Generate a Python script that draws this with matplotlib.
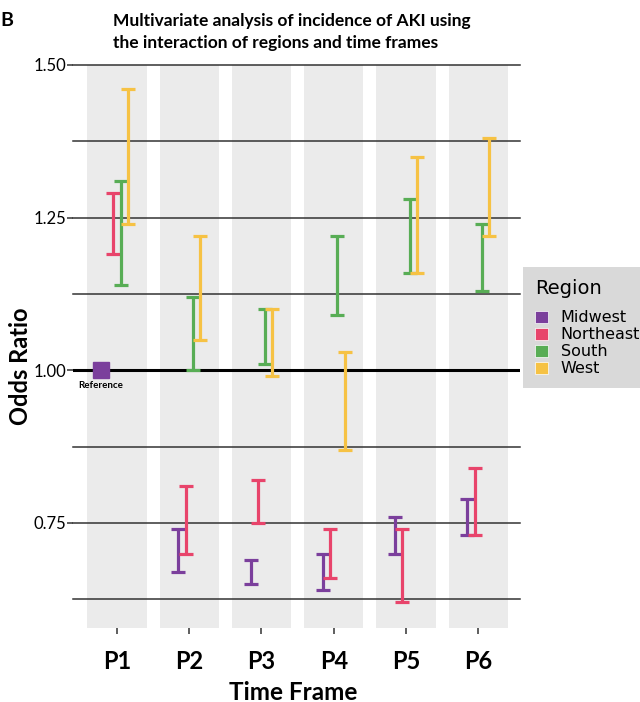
import numpy as np
import matplotlib
matplotlib.use('Agg')
from matplotlib import pyplot as plt
from matplotlib.patches import Patch

periods = ['P1', 'P2', 'P3', 'P4', 'P5', 'P6']
regions = ['Midwest', 'Northeast', 'South', 'West']
colors = ['#7B3F9C', '#E8446B', '#58AD55', '#F6C244']

# 95% CI bounds per region, one value per period (None = reference)
midwest_lo = [None, 0.67, 0.65, 0.64, 0.70, 0.73]
midwest_hi = [None, 0.74, 0.69, 0.70, 0.76, 0.79]
northeast_lo = [1.19, 0.70, 0.75, 0.66, 0.62, 0.73]
northeast_hi = [1.29, 0.81, 0.82, 0.74, 0.74, 0.84]
south_lo = [1.14, 1.00, 1.01, 1.09, 1.16, 1.13]
south_hi = [1.31, 1.12, 1.10, 1.22, 1.28, 1.24]
west_lo = [1.24, 1.05, 0.99, 0.87, 1.16, 1.22]
west_hi = [1.46, 1.22, 1.10, 1.03, 1.35, 1.38]
reference_value = 1.0

lows = [midwest_lo, northeast_lo, south_lo, west_lo]
highs = [midwest_hi, northeast_hi, south_hi, west_hi]
offsets = [-0.15, -0.05, 0.05, 0.15]

plt.rcParams['font.family'] = ['Lato', 'DejaVu Sans']

fig = plt.figure(figsize=(6.4, 7.02), dpi=100)
ax = fig.add_axes([73/640, 1-628/702, (520-73)/640, (628-65)/702])

x = np.arange(1, len(periods)+1)
for xi in x:
    ax.axvspan(xi-0.41, xi+0.41, color='#EBEBEB', zorder=0, lw=0)

# gridlines
for yv in [0.625, 0.75, 0.875, 1.125, 1.25, 1.375, 1.5]:
    ax.axhline(yv, color='#333333', lw=1.1, zorder=1, clip_on=False)
ax.axhline(1.0, color='black', lw=2.2, zorder=1)

for lo, hi, off, c in zip(lows, highs, offsets, colors):
    xs, ys, err = [], [], []
    for i, (l, h) in enumerate(zip(lo, hi)):
        if l is None:
            continue
        xs.append(x[i]+off)
        ys.append((l+h)/2)
        err.append((h-l)/2)
    ax.errorbar(xs, ys, yerr=err, fmt='none', ecolor=c, elinewidth=2.3,
                capsize=5, capthick=2.3, zorder=3)

# reference marker for Midwest P1
ax.plot(x[0]-0.22, reference_value, marker='s', ms=11.5, color=colors[0],
        mec=colors[0], zorder=4)
ax.text(x[0]-0.22, reference_value-0.017, 'Reference', ha='center', va='top',
        fontsize=7, fontweight='bold', zorder=4)

ax.set_xlim(0.39, 6.58)
ax.set_ylim(0.578, 1.5)
ax.set_xticks(x)
ax.set_xticklabels(periods, fontsize=17, fontweight='bold')
ax.set_yticks([0.75, 1.0, 1.25, 1.5])
ax.set_yticklabels(['0.75', '1.00', '1.25', '1.50'], fontsize=12)
ax.tick_params(axis='both', length=4, color='#333333', width=1.1)
ax.tick_params(axis='x', pad=12)
ax.tick_params(axis='y', pad=1)
for s in ax.spines.values():
    s.set_visible(False)

ax.set_xlabel('Time Frame', fontsize=17.5, fontweight='bold', va='center')
ax.xaxis.set_label_coords((293-73)/447, (628-692)/563)
ax.set_ylabel('Odds Ratio', fontsize=17, fontweight='bold', va='center')
ax.yaxis.set_label_coords((21-73)/447, (628-366)/563)

fig.text(113/640, 1-32/702, 'Multivariate analysis of incidence of AKI using\nthe interaction of regions and time frames',
         fontsize=12.5, fontweight='bold', ha='left', va='center', linespacing=1.45)
fig.text(0.0, 1-20/702, 'B', fontsize=14, fontweight='bold', ha='left', va='center')

handles = [Patch(facecolor=c, edgecolor='white', lw=0.5) for c in colors]
leg = fig.legend(handles, regions, title='Region', loc='upper left',
                 bbox_to_anchor=(523/640, 1-267/702), borderaxespad=0,
                 frameon=True, fancybox=False, facecolor='#D9D9D9', edgecolor='none',
                 prop={'family': 'DejaVu Sans', 'size': 11.5}, handlelength=0.8,
                 handleheight=0.8, handletextpad=0.8, labelspacing=0.12,
                 borderpad=0.75)
leg.get_title().set_fontfamily('DejaVu Sans')
leg.get_title().set_fontsize(14)
leg._legend_box.align = 'left'
leg._legend_box.sep = 9
leg.get_frame().set_alpha(1)

fig.savefig('out.png', dpi=100)
